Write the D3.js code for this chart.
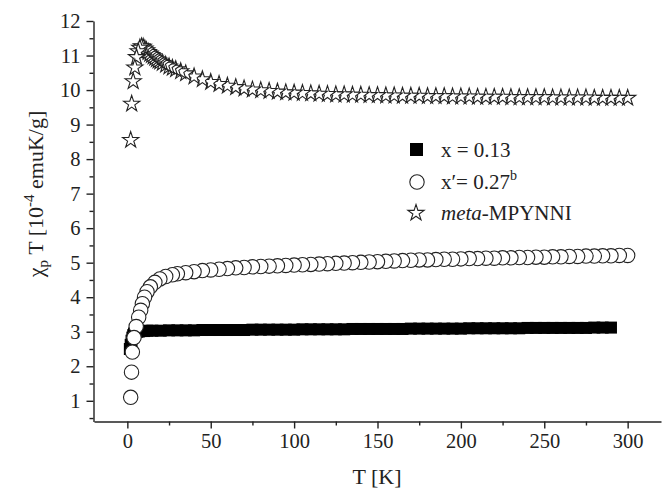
<!DOCTYPE html>
<html>
<head>
<meta charset="utf-8">
<script src="https://cdn.jsdelivr.net/npm/d3@7"></script>
<style>
  html, body { margin: 0; padding: 0; background: #fff; }
  svg { display: block; }
  text { font-family: "Liberation Serif", "Times New Roman", serif; fill: #222; }
</style>
</head>
<body>
<svg id="chart" width="662" height="488"></svg>
<script>
// ---------- data ----------
// x = 0.13 (filled squares)
const sqT = [1.5, 2, 2.5, 3, 3.5, 4, 5, 6, 7, 8, 10, 12, 15, 20, 25, 30, 35, 40, 45, 50, 55, 60, 65, 70, 75, 80, 85, 90, 95, 100,
  105, 110, 115, 120, 125, 130, 135, 140, 145, 150, 155, 160, 165, 170, 175, 180, 185, 190, 195, 200,
  205, 210, 215, 220, 225, 230, 235, 240, 245, 250, 255, 260, 265, 270, 275, 280, 285, 290];
const sqV = [2.5, 2.62, 2.74, 2.83, 2.9, 2.95, 2.99, 3.0, 3.01, 3.02, 3.02, 3.03, 3.03, 3.03, 3.04, 3.04, 3.04, 3.04, 3.05, 3.05, 3.05, 3.05, 3.05, 3.05, 3.06, 3.06, 3.06, 3.06, 3.06, 3.06,
  3.07, 3.07, 3.07, 3.07, 3.07, 3.07, 3.08, 3.08, 3.08, 3.08, 3.08, 3.08, 3.08, 3.09, 3.09, 3.09, 3.09, 3.09, 3.09, 3.09,
  3.1, 3.1, 3.1, 3.1, 3.1, 3.1, 3.1, 3.11, 3.11, 3.11, 3.11, 3.11, 3.11, 3.11, 3.11, 3.12, 3.12, 3.12];

// x' = 0.27 (open circles)
const ciT = [2, 2.5, 3, 4, 5.3, 6.8, 8, 9, 10.3, 11.8, 13.8, 16.5, 19.5, 23, 27, 30, 35, 40, 45, 50, 55, 60, 65, 70, 75, 80, 85, 90, 95, 100,
  105, 110, 115, 120, 125, 130, 135, 140, 145, 150, 155, 160, 165, 170, 175, 180, 185, 190, 195, 200,
  205, 210, 215, 220, 225, 230, 235, 240, 245, 250, 255, 260, 265, 270, 275, 280, 285, 290, 295, 300];
const ciV = [1.1, 1.83, 2.41, 2.83, 3.15, 3.42, 3.62, 3.81, 4.0, 4.16, 4.3, 4.43, 4.53, 4.6, 4.65, 4.68, 4.71, 4.74, 4.77, 4.79, 4.81, 4.83, 4.85, 4.86, 4.88, 4.89, 4.9, 4.91, 4.92, 4.93,
  4.94, 4.95, 4.96, 4.97, 4.98, 4.99, 5.0, 5.01, 5.02, 5.03, 5.04, 5.05, 5.06, 5.07, 5.08, 5.08, 5.09, 5.1, 5.1, 5.11,
  5.12, 5.12, 5.13, 5.13, 5.14, 5.14, 5.15, 5.15, 5.16, 5.16, 5.17, 5.17, 5.18, 5.18, 5.19, 5.19, 5.2, 5.2, 5.21, 5.21];

// meta-MPYNNI (open stars)
const stT = [2, 2.6, 3.5, 4.5, 5.5, 6.5, 7.5, 8.5, 9.5, 10.5, 11.5, 12.5, 13.5, 14.5, 15.5, 16.5, 17.5, 18.5, 19.5, 21, 23, 25, 27, 29, 32, 35, 40, 45, 50, 55,
  60, 65, 70, 75, 80, 85, 90, 95, 100, 105, 110, 115, 120, 125, 130, 135, 140, 145, 150, 155, 160, 165, 170, 175, 180, 185, 190, 195, 200,
  205, 210, 215, 220, 225, 230, 235, 240, 245, 250, 255, 260, 265, 270, 275, 280, 285, 290, 295, 300];
const stV = [8.55, 9.6, 10.25, 10.65, 10.95, 11.12, 11.22, 11.26, 11.25, 11.2, 11.15, 11.1, 11.05, 11.01, 10.97, 10.93, 10.89, 10.85, 10.82, 10.78, 10.73, 10.68, 10.64, 10.6, 10.54, 10.48, 10.39, 10.31, 10.23, 10.17,
  10.12, 10.08, 10.04, 10.01, 9.99, 9.97, 9.95, 9.93, 9.92, 9.91, 9.9, 9.89, 9.88, 9.87, 9.87, 9.86, 9.86, 9.85, 9.85, 9.84, 9.84, 9.83, 9.83, 9.83, 9.82, 9.82, 9.82, 9.81, 9.81,
  9.81, 9.8, 9.8, 9.8, 9.8, 9.79, 9.79, 9.79, 9.79, 9.79, 9.78, 9.78, 9.78, 9.78, 9.78, 9.77, 9.77, 9.77, 9.77, 9.77];

const xTicks = [0, 50, 100, 150, 200, 250, 300];
const xMinor = [25, 75, 125, 175, 225, 275];
const yTicks = [1, 2, 3, 4, 5, 6, 7, 8, 9, 10, 11, 12];
const yMinor = [0.5, 1.5, 2.5, 3.5, 4.5, 5.5, 6.5, 7.5, 8.5, 9.5, 10.5, 11.5];

// ---------- scales ----------
const svg = d3.select("#chart");
const x = d3.scaleLinear().domain([-20, 320]).range([94, 661]);
const y = d3.scaleLinear().domain([0.4, 12]).range([421.5, 21]);

const ink = "#222";

// ---------- axes ----------
const gx = svg.append("g").attr("transform", "translate(0,421.5)");
gx.call(d3.axisBottom(x).tickValues(xTicks).tickSize(7).tickSizeOuter(0).tickPadding(5));
gx.append("g").call(d3.axisBottom(x).tickValues(xMinor).tickSize(4).tickSizeOuter(0).tickFormat(""))
  .select(".domain").remove();
gx.selectAll("text").attr("font-size", 20.5).attr("font-family", "Liberation Serif").attr("fill", ink);

const gy = svg.append("g").attr("transform", "translate(93.5,0)");
gy.call(d3.axisLeft(y).tickValues(yTicks).tickSize(7).tickSizeOuter(0).tickPadding(6));
gy.append("g").call(d3.axisLeft(y).tickValues(yMinor).tickSize(4).tickSizeOuter(0).tickFormat(""))
  .select(".domain").remove();
gy.selectAll("text").attr("font-size", 20.5).attr("font-family", "Liberation Serif").attr("fill", ink);

svg.selectAll(".domain, .tick line").attr("stroke", ink).attr("stroke-width", 1.4);

// ---------- titles ----------
svg.append("text").attr("x", 377).attr("y", 484).attr("text-anchor", "middle")
  .attr("font-size", 22).text("T [K]");

const yt = svg.append("text").attr("transform", "translate(43,194) rotate(-90)")
  .attr("text-anchor", "middle").attr("font-size", 22);
yt.append("tspan").text("\u03C7");
yt.append("tspan").attr("font-size", 15).attr("dy", 5).text("p");
yt.append("tspan").attr("dy", -5).text(" T [10");
yt.append("tspan").attr("font-size", 15).attr("dy", -9).text("-4");
yt.append("tspan").attr("dy", 9).text(" emuK/g]");

// ---------- data marks ----------
const sq = 12;
svg.append("g").selectAll("rect").data(sqT.map((t, i) => [t, sqV[i]])).join("rect")
  .attr("x", d => x(d[0]) - sq / 2).attr("y", d => y(d[1]) - sq / 2)
  .attr("width", sq).attr("height", sq).attr("fill", "#000");

const circ = ciT.map((t, i) => [t, ciV[i]]).reverse();
svg.append("g").selectAll("circle").data(circ).join("circle")
  .attr("cx", d => x(d[0])).attr("cy", d => y(d[1])).attr("r", 7.2)
  .attr("fill", "#fff").attr("stroke", ink).attr("stroke-width", 1.1);

const starPath = d3.symbol().type(d3.symbolStar).size(82)();
const stars = stT.map((t, i) => [t, stV[i]]).reverse();
svg.append("g").selectAll("path").data(stars).join("path")
  .attr("d", starPath)
  .attr("transform", d => `translate(${x(d[0])},${y(d[1])})`)
  .attr("fill", "#fff").attr("stroke", ink).attr("stroke-width", 1.1);

// ---------- legend ----------
const lg = svg.append("g");
lg.append("rect").attr("x", 410).attr("y", 143).attr("width", 13).attr("height", 13).attr("fill", "#000");
lg.append("circle").attr("cx", 417).attr("cy", 182).attr("r", 7.2).attr("fill", "#fff").attr("stroke", ink).attr("stroke-width", 1.1);
lg.append("path").attr("d", starPath).attr("transform", "translate(416,213)")
  .attr("fill", "#fff").attr("stroke", ink).attr("stroke-width", 1.1);

const t1 = lg.append("text").attr("x", 441).attr("y", 157).attr("font-size", 21).text("x = 0.13");
const t2 = lg.append("text").attr("x", 441).attr("y", 189).attr("font-size", 21);
t2.append("tspan").text("x\u2032= 0.27");
t2.append("tspan").attr("font-size", 14).attr("dy", -9).text("b");
const t3 = lg.append("text").attr("x", 441).attr("y", 220).attr("font-size", 21);
t3.append("tspan").attr("font-style", "italic").text("meta");
t3.append("tspan").text("-MPYNNI");
</script>
</body>
</html>
